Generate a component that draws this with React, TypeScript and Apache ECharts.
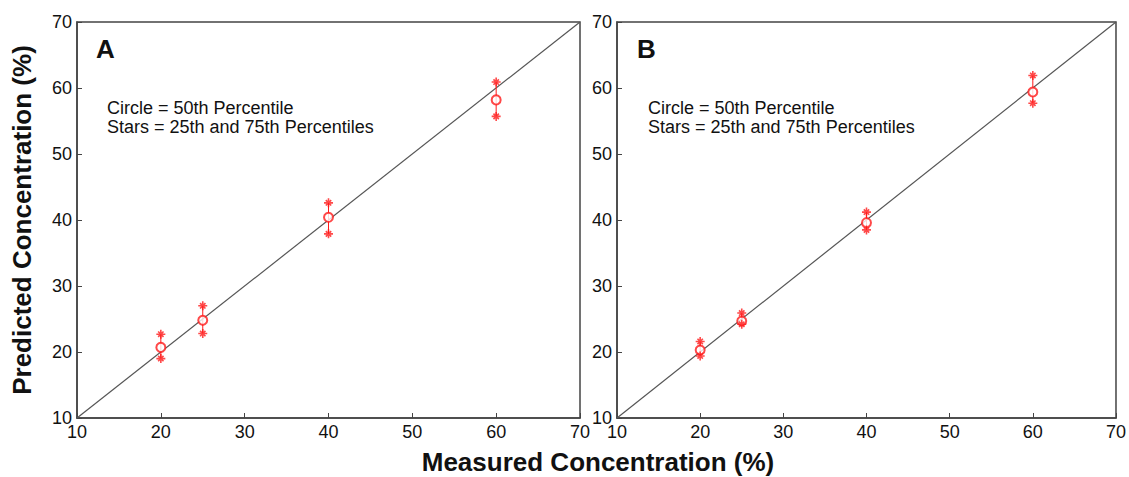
import React, { useEffect, useRef } from "react";
import * as echarts from "echarts";

const measured = [20, 25, 40, 60];
const aMedian = [20.7, 24.8, 40.4, 58.2];
const aP25 = [19.0, 22.8, 37.9, 55.7];
const aP75 = [22.7, 27.0, 42.6, 60.9];
const bMedian = [20.3, 24.7, 39.6, 59.4];
const bP25 = [19.4, 24.2, 38.5, 57.7];
const bP75 = [21.6, 25.9, 41.2, 61.9];
const ticks = [10, 20, 30, 40, 50, 60, 70];
const diagonal = [10, 70];

const FONT = "'Liberation Sans', Arial, sans-serif";
const RED = "#ff1a1a";
const STAR = "path://M0,-10L0,10M-10,0L10,0M-6,-6L6,6M-6,6L6,-6";

export default function App() {
  const ref = useRef<HTMLDivElement>(null);
  useEffect(() => {
    if (!ref.current) return;
    const chart = echarts.init(ref.current, undefined, { renderer: "svg" });
    const grids = [
      { left: 77, top: 22, width: 503, height: 396 },
      { left: 617, top: 22, width: 501, height: 396 },
    ];
    const axisCommon = {
      min: ticks[0],
      max: ticks[ticks.length - 1],
      interval: 10,
      axisLine: { show: true, lineStyle: { color: "#444", width: 1.5 } },
      axisTick: { show: true, inside: true, length: 5, lineStyle: { color: "#444" } },
      splitLine: { show: false },
      axisLabel: { color: "#111", fontSize: 18, fontFamily: FONT },
    };
    const panels = [
      { med: aMedian, lo: aP25, hi: aP75 },
      { med: bMedian, lo: bP25, hi: bP75 },
    ];
    const series: any[] = [];
    panels.forEach((p, i) => {
      series.push({
        type: "line",
        xAxisIndex: i,
        yAxisIndex: i,
        data: diagonal.map((v) => [v, v]),
        symbol: "none",
        lineStyle: { color: "#555", width: 1.2 },
        z: 1,
      });
      series.push({
        type: "custom",
        xAxisIndex: i,
        yAxisIndex: i,
        data: measured.map((x, k) => [x, p.lo[k], p.hi[k]]),
        renderItem: (params: any, api: any) => {
          const a = api.coord([api.value(0), api.value(1)]);
          const b = api.coord([api.value(0), api.value(2)]);
          return {
            type: "line",
            shape: { x1: a[0], y1: a[1], x2: b[0], y2: b[1] },
            style: { stroke: RED, lineWidth: 1 },
          };
        },
        z: 2,
      });
      series.push({
        type: "scatter",
        xAxisIndex: i,
        yAxisIndex: i,
        data: measured.map((x, k) => [x, p.med[k]]),
        symbol: "emptyCircle",
        symbolSize: 9,
        itemStyle: { color: RED, borderColor: RED, borderWidth: 1 },
        z: 3,
      });
      series.push({
        type: "scatter",
        xAxisIndex: i,
        yAxisIndex: i,
        data: measured
          .map((x, k) => [x, p.lo[k]])
          .concat(measured.map((x, k) => [x, p.hi[k]])),
        symbol: STAR,
        symbolSize: 9,
        itemStyle: { color: "none", borderColor: RED, borderWidth: 1.6 },
        z: 3,
      });
    });
    const textStyle = (t: string, x: number, y: number, size: number, bold = false) => ({
      type: "text",
      left: x,
      top: y,
      style: {
        text: t,
        fontSize: size,
        fontFamily: FONT,
        fontWeight: bold ? "bold" : "normal",
        fill: "#111",
      },
    });
    chart.setOption({
      animation: false,
      backgroundColor: "#fff",
      grid: grids.map((g) => ({
        ...g,
        show: true,
        borderColor: "#444",
        borderWidth: 1.5,
        backgroundColor: "#fff",
      })),
      xAxis: grids.map((_, i) => ({
        type: "value",
        gridIndex: i,
        ...axisCommon,
        axisLabel: { ...axisCommon.axisLabel, margin: 5 },
      })),
      yAxis: grids.map((_, i) => ({
        type: "value",
        gridIndex: i,
        ...axisCommon,
        axisLabel: { ...axisCommon.axisLabel, margin: 5 },
      })),
      series,
      graphic: [
        textStyle("A", 96, 36, 26, true),
        textStyle("B", 637, 36, 26, true),
        textStyle("Circle = 50th Percentile", 107, 99, 18),
        textStyle("Stars = 25th and 75th Percentiles", 107, 118, 18),
        textStyle("Circle = 50th Percentile", 648, 99, 18),
        textStyle("Stars = 25th and 75th Percentiles", 648, 118, 18),
        {
          type: "text",
          x: 22,
          y: 220,
          rotation: Math.PI / 2,
          style: {
            text: "Predicted Concentration (%)",
            fontSize: 26,
            fontWeight: "bold",
            fontFamily: FONT,
            fill: "#111",
            align: "center",
            verticalAlign: "middle",
          },
        },
        {
          type: "text",
          x: 598,
          y: 462,
          style: {
            text: "Measured Concentration (%)",
            fontSize: 26,
            fontWeight: "bold",
            fontFamily: FONT,
            fill: "#111",
            align: "center",
            verticalAlign: "middle",
          },
        },
      ],
    });
    return () => chart.dispose();
  }, []);
  return (
    <div
      ref={ref}
      style={{ width: 1129, height: 477, position: "absolute", left: 0, top: 0 }}
    />
  );
}
